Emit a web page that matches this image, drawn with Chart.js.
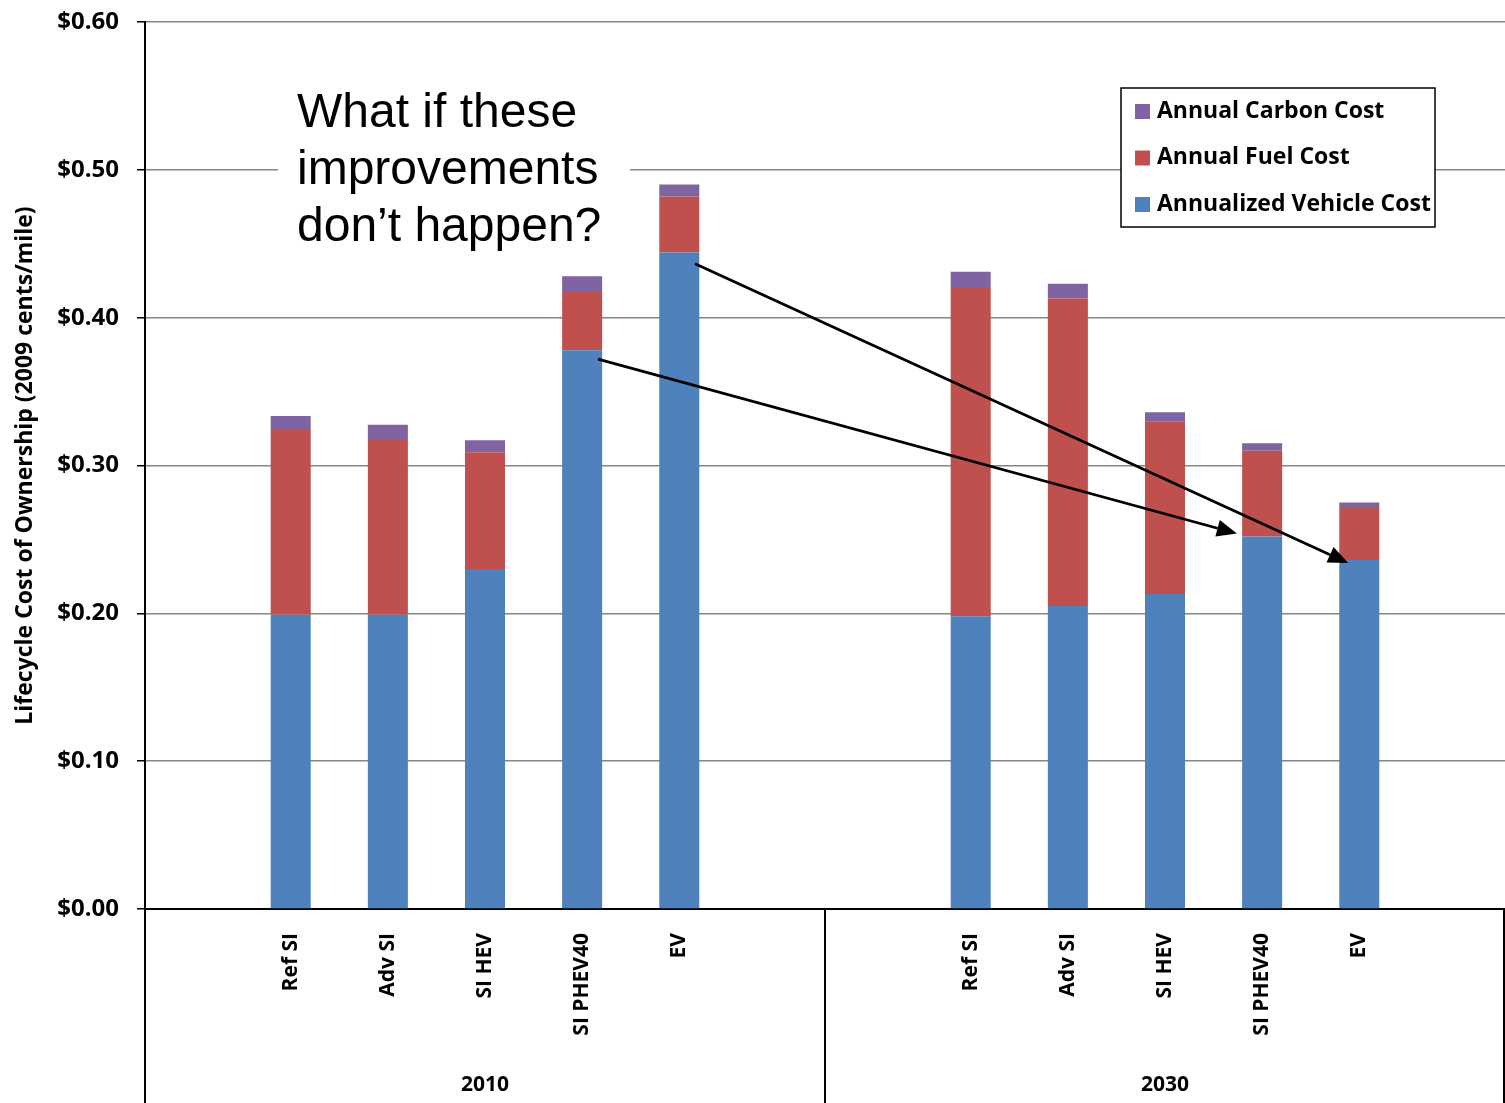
<!DOCTYPE html>
<html>
<head>
<meta charset="utf-8">
<script src="https://cdn.jsdelivr.net/npm/chart.js@4.4.1/dist/chart.umd.min.js"></script>
<style>
  html, body { margin: 0; padding: 0; background: #fff; }
  #wrap { width: 1505px; height: 1103px; position: relative; }
</style>
</head>
<body>
<div id="wrap"><canvas id="lcc-chart"></canvas></div>
<script>
// Categories (empty slots pad each year group)
const categories = ["", "Ref SI", "Adv SI", "SI HEV", "SI PHEV40", "EV", "",
                    "", "Ref SI", "Adv SI", "SI HEV", "SI PHEV40", "EV", ""];

// Series values ($ per mile)
const vehicleCost = [null, 0.199, 0.199, 0.230, 0.378, 0.444, null,
                     null, 0.198, 0.205, 0.213, 0.252, 0.236, null];
const fuelCost    = [null, 0.125, 0.119, 0.079, 0.040, 0.038, null,
                     null, 0.222, 0.208, 0.117, 0.058, 0.036, null];
const carbonCost  = [null, 0.0095, 0.0095, 0.008, 0.010, 0.008, null,
                     null, 0.011, 0.010, 0.006, 0.005, 0.003, null];

// Year groups under the axis: [label, first index, last index]
const groupNames = ["2010", "2030"];
const groupFirst = [0, 7];
const groupLast = [6, 13];

// Annotation text and arrows (category index, value) -> (category index, value)
const noteLines = ["What if these", "improvements", "don\u2019t happen?"];
const arrowFrom = [[4.163, 0.372], [5.162, 0.4365]];
const arrowTo = [[10.74, 0.254], [11.886, 0.234]];

const BOLD = "'Open Sans', Lato, sans-serif";

function drawArrow(ctx, x1, y1, x2, y2) {
    const ang = Math.atan2(y2 - y1, x2 - x1);
    const head = 20, half = 8.5;
    const bx = x2 - head * Math.cos(ang), by = y2 - head * Math.sin(ang);
    ctx.beginPath();
    ctx.moveTo(x1, y1);
    ctx.lineTo(bx, by);
    ctx.stroke();
    ctx.beginPath();
    ctx.moveTo(x2, y2);
    ctx.lineTo(bx + half * Math.sin(ang), by - half * Math.cos(ang));
    ctx.lineTo(bx - half * Math.sin(ang), by + half * Math.cos(ang));
    ctx.closePath();
    ctx.fill();
}

const overlay = {
    id: "overlay",
    beforeDatasetsDraw(chart) {
        const { ctx } = chart;
        // white box behind the note text (breaks the $0.50 gridline)
        ctx.save();
        ctx.fillStyle = "#fff";
        ctx.fillRect(278, 84, 352, 170);
        ctx.restore();
    },
    afterDatasetsDraw(chart) {
        const { ctx, scales: { x, y } } = chart;
        ctx.save();
        ctx.strokeStyle = "#000";
        ctx.fillStyle = "#000";
        ctx.lineWidth = 2.8;
        for (let i = 0; i < arrowFrom.length; i++) {
            drawArrow(ctx,
                x.getPixelForValue(arrowFrom[i][0]), y.getPixelForValue(arrowFrom[i][1]),
                x.getPixelForValue(arrowTo[i][0]), y.getPixelForValue(arrowTo[i][1]));
        }
        ctx.restore();
    },
    afterDraw(chart) {
        const { ctx, chartArea, scales: { x } } = chart;
        ctx.save();

        // group separators and year labels
        ctx.strokeStyle = "#000";
        ctx.lineWidth = 2;
        const seps = [x.getPixelForValue(-0.5), x.getPixelForValue(6.5), x.getPixelForValue(13.5) - 1];
        seps.forEach(px => {
            ctx.beginPath();
            ctx.moveTo(px, chartArea.bottom);
            ctx.lineTo(px, chart.height);
            ctx.stroke();
        });
        ctx.fillStyle = "#000";
        ctx.font = "bold 21px " + BOLD;
        ctx.textAlign = "center";
        ctx.textBaseline = "middle";
        groupNames.forEach((g, i) => {
            const cx = (x.getPixelForValue(groupFirst[i]) + x.getPixelForValue(groupLast[i])) / 2;
            ctx.fillText(g, cx, 1085);
        });

        // note text
        ctx.font = "48px 'Liberation Sans', Arial, sans-serif";
        ctx.textAlign = "left";
        ctx.textBaseline = "alphabetic";
        noteLines.forEach((t, i) => ctx.fillText(t, 297, 127 + i * 57));

        // legend (reverse dataset order, boxed)
        const lx = 1121, ly = 88, lw = 314, lh = 139;
        ctx.fillStyle = "#fff";
        ctx.fillRect(lx, ly, lw, lh);
        ctx.strokeStyle = "#000";
        ctx.lineWidth = 1.5;
        ctx.strokeRect(lx, ly, lw, lh);
        ctx.font = "bold 23px " + BOLD;
        ctx.textBaseline = "middle";
        const ds = chart.data.datasets.slice().reverse();
        ds.forEach((d, i) => {
            const cy = 111 + i * 46.5;
            ctx.fillStyle = d.backgroundColor;
            ctx.fillRect(1135, cy - 7, 15, 15);
            ctx.fillStyle = "#000";
            ctx.fillText(d.label, 1157, cy);
        });
        ctx.restore();
    }
};

new Chart(document.getElementById("lcc-chart"), {
    type: "bar",
    data: {
        labels: categories,
        datasets: [
            { label: "Annualized Vehicle Cost", data: vehicleCost, backgroundColor: "#4F81BD" },
            { label: "Annual Fuel Cost", data: fuelCost, backgroundColor: "#C0504D" },
            { label: "Annual Carbon Cost", data: carbonCost, backgroundColor: "#8064A2" }
        ]
    },
    options: {
        responsive: true,
        maintainAspectRatio: false,
        animation: false,
        layout: { padding: { top: 22, right: 0, left: 0, bottom: 0 } },
        datasets: { bar: { barPercentage: 0.412, categoryPercentage: 1 } },
        plugins: {
            legend: { display: false },
            tooltip: { enabled: false }
        },
        scales: {
            x: {
                stacked: true,
                grid: { display: false, drawTicks: false },
                border: { display: true, color: "#000", width: 2 },
                ticks: {
                    autoSkip: false,
                    maxRotation: 90,
                    minRotation: 90,
                    padding: 24,
                    color: "#000",
                    font: { family: BOLD, size: 21, weight: "bold" }
                },
                afterFit(scale) {
                    scale.height = 194;
                    scale.paddingLeft = 0;
                    scale.paddingRight = 0;
                }
            },
            y: {
                stacked: true,
                min: 0,
                max: 0.6,
                grid: { color: "#868686", lineWidth: 1.5, tickColor: "#000", tickLength: 8 },
                border: { display: true, color: "#000", width: 2 },
                ticks: {
                    stepSize: 0.1,
                    padding: 18,
                    color: "#000",
                    font: { family: BOLD, size: 24, weight: "bold" },
                    callback: v => "$" + Number(v).toFixed(2)
                },
                title: {
                    display: true,
                    text: "Lifecycle Cost of Ownership (2009 cents/mile)",
                    color: "#000",
                    padding: { top: 12, bottom: 0 },
                    font: { family: BOLD, size: 23, weight: "bold" }
                },
                afterFit(scale) {
                    scale.width = 145;
                    scale.paddingTop = 0;
                    scale.paddingBottom = 0;
                }
            }
        }
    },
    plugins: [overlay]
});
</script>
</body>
</html>
